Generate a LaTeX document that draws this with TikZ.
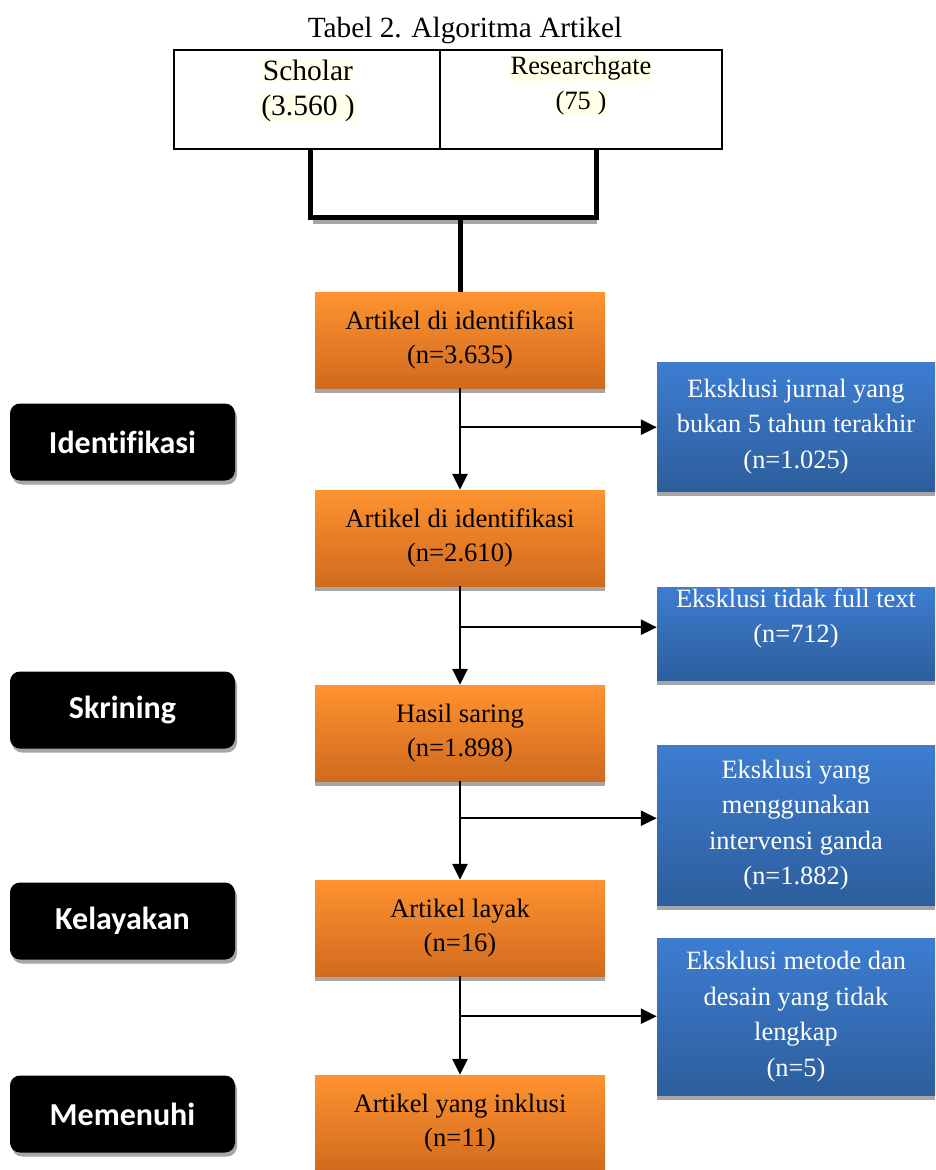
\documentclass[tikz,border=0pt]{standalone}
\usepackage{fontspec}
\setmainfont{Liberation Serif}
\newfontfamily\carlito[Ligatures=NoCommon]{Carlito}
\usetikzlibrary{arrows.meta,shadows}
\definecolor{otop}{HTML}{FF9330}
\definecolor{obot}{HTML}{D06A1E}
\definecolor{btop}{HTML}{3D7DD1}
\definecolor{bbot}{HTML}{2D5E9C}
\definecolor{hl}{HTML}{FFFFEA}
\definecolor{shadowgray}{HTML}{A6A6A6}
\setlength{\fboxsep}{1pt}
\begin{document}
\begin{tikzpicture}[x=1pt,y=-1pt,
  orangebox/.style={minimum width=290pt, minimum height=96pt, top color=otop, bottom color=obot,
    align=center, inner sep=0pt, font=\fontsize{26.6}{33.5}\selectfont,
    drop shadow={shadow xshift=0pt, shadow yshift=-5pt, fill=shadowgray, opacity=1}},
  bluebox/.style={minimum width=278pt, top color=btop, bottom color=bbot, text=white,
    align=center, inner sep=0pt, font=\fontsize{26.4}{35.5}\selectfont,
    drop shadow={shadow xshift=0pt, shadow yshift=-5pt, fill=shadowgray, opacity=1}},
  stagebox/.style={minimum width=225pt, minimum height=77pt, fill=black, rounded corners=10pt,
    text=white, inner sep=0pt, font=\carlito\bfseries\fontsize{32}{34}\selectfont,
    drop shadow={shadow xshift=2pt, shadow yshift=-4pt, fill=shadowgray, opacity=1}},
  cell/.style={draw=black, line width=1.5pt, minimum height=99pt, inner sep=0pt},
  thickline/.style={line width=5pt},
  flow/.style={line width=2.5pt, -{Triangle[width=15pt,length=16pt]}}
]
\useasboundingbox (0,0) rectangle (935,1170);

% title
\node (title) at (465,30) {\fontsize{29.3}{32}\selectfont Tabel 2. Algoritma Artikel};

% table
\node[cell, minimum width=266pt] (cell1) at (307,99.5) {};
\node[cell, minimum width=282pt] (cell2) at (581,99.5) {};
\node (sch) at (308,70) {\fontsize{29.5}{32}\selectfont\colorbox{hl}{Scholar}};
\node (schn) at (308,108) {\fontsize{29.5}{32}\selectfont\colorbox{hl}{(3.560 )}};
\node (rg) at (581,68) {\fontsize{26.4}{30}\selectfont\colorbox{hl}{Researchgate}};
\node (rgn) at (581,103) {\fontsize{26.4}{30}\selectfont\colorbox{hl}{(75 )}};

% orange boxes
\node[orangebox] (o1) at (460,340) {Artikel di identifikasi\\(n=3.635)};
\node[orangebox] (o2) at (460,538) {Artikel di identifikasi\\(n=2.610)};
\node[orangebox] (o3) at (460,733) {Hasil saring\\(n=1.898)};
\node[orangebox] (o4) at (460,928) {Artikel layak\\(n=16)};
\node[orangebox] (o5) at (460,1123) {Artikel yang inklusi\\(n=11)};

% blue boxes
\node[bluebox, minimum height=129pt] (b1) at (796,426.5) {Eksklusi jurnal yang\\bukan 5 tahun terakhir\\(n=1.025)};
\node[bluebox, minimum height=93pt] (b2) at (796,633.5) {Eksklusi tidak full text\\(n=712)\\\mbox{}};
\node[bluebox, minimum height=160pt] (b3) at (796,825) {Eksklusi yang\\menggunakan\\intervensi ganda\\(n=1.882)};
\node[bluebox, minimum height=157pt] (b4) at (796,1016.5) {Eksklusi metode dan\\desain yang tidak\\lengkap\\(n=5)};

% stage boxes
\node[stagebox] (s1) at (122.5,442) {Identifikasi};
\node[stagebox] (s2) at (122.5,710) {Skrining};
\node[stagebox] (s3) at (122.5,921) {Kelayakan};
\node[stagebox] (s4) at (122.5,1114) {Memenuhi};

% top connectors
\coordinate (m) at (460,217);
\draw[shadowgray, line width=4pt] (313,222) -- (597,222);
\draw[thickline] ([xshift=3pt]cell1.south) |- (m) -| ([xshift=15pt]cell2.south);
\draw[thickline] (m) -- (o1.north);

% flow arrows
\draw[flow] (o1.south) -- (o2.north);
\draw[flow] (o2.south) -- (o3.north);
\draw[flow] (o3.south) -- (o4.north);
\draw[flow] (o4.south) -- (o5.north);
\path (o1.south) ++(0,39) coordinate (j1);
\path (o2.south) ++(0,41) coordinate (j2);
\path (o3.south) ++(0,37) coordinate (j3);
\path (o4.south) ++(0,40) coordinate (j4);
\draw[flow] ([xshift=-1.25pt]j1) -- (j1 -| b1.west);
\draw[flow] ([xshift=-1.25pt]j2) -- (j2 -| b2.west);
\draw[flow] ([xshift=-1.25pt]j3) -- (j3 -| b3.west);
\draw[flow] ([xshift=-1.25pt]j4) -- (j4 -| b4.west);
\end{tikzpicture}
\end{document}
